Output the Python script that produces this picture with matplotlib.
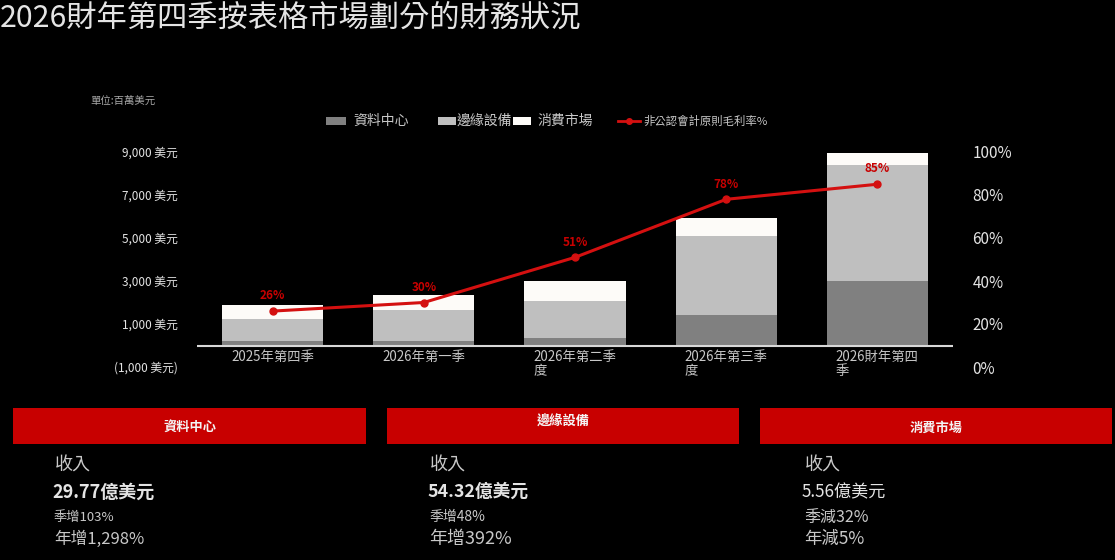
import matplotlib
matplotlib.use('Agg')
import matplotlib.pyplot as plt
from matplotlib.patches import Rectangle
from matplotlib.lines import Line2D

plt.rcParams['font.family'] = ['Noto Sans CJK TC', 'DejaVu Sans']

# data (million USD)
quarters = ['2025年第四季', '2026年第一季', '2026年第二季\n度', '2026年第三季\n度', '2026財年第四\n季']
data_center = [200, 230, 370, 1400, 2977]
edge = [1050, 1400, 1680, 3670, 5432]
consumer = [620, 700, 930, 880, 556]
margin = [0.26, 0.30, 0.51, 0.78, 0.85]
margin_labels = ['26%', '30%', '51%', '78%', '85%']

left_ticks = [-1000, 1000, 3000, 5000, 7000, 9000]
left_labels = ['(1,000 美元)', '1,000 美元', '3,000 美元', '5,000 美元', '7,000 美元', '9,000 美元']
right_ticks = [0, 0.2, 0.4, 0.6, 0.8, 1.0]
right_labels = ['0%', '20%', '40%', '60%', '80%', '100%']

segments = ['資料中心', '邊緣設備', '消費市場']
seg_revenue = ['29.77億美元', '54.32億美元', '5.56億美元']
seg_qoq = ['季增103%', '季增48%', '季減32%']
seg_yoy = ['年增1,298%', '年增392%', '年減5%']

C = {
    'bg': '#000000',
    'dc': '#808080',
    'edge': '#bfbfbf',
    'cons': '#fdfbf8',
    'red': '#c80000',
    'line': '#d41010',
    'txt': '#e4e4e4',
    'sub': '#c8c8c8',
}

W, H = 1115, 560
fig = plt.figure(figsize=(W / 100, H / 100), dpi=100, facecolor=C['bg'])


def fx(px):
    return px / W


def fy(py):
    return 1 - py / H


# title
fig.text(fx(0), fy(18), '2026財年第四季按表格市場劃分的財務狀況', fontsize=21.8,
         fontweight='medium', color=C['txt'], ha='left', va='center')
fig.text(fx(90), fy(101), '單位:百萬美元', fontsize=7.5, color='#a8a8a8', ha='left', va='center')

# main axes
ax = fig.add_axes([fx(197), fy(367), fx(953) - fx(197), fy(152) - fy(367)])
ax.set_facecolor(C['bg'])
x = list(range(len(quarters)))
w = 0.67
b1 = [d + e for d, e in zip(data_center, edge)]
ax.bar(x, data_center, width=w, color=C['dc'], zorder=2)
ax.bar(x, edge, width=w, bottom=data_center, color=C['edge'], zorder=2)
ax.bar(x, consumer, width=w, bottom=b1, color=C['cons'], zorder=2)
ax.axhline(0, color='#d8d8d8', lw=1.5, zorder=3)
ax.set_xlim(-0.5, len(quarters) - 0.5)
ax.set_ylim(-1000, 9000)
ax.set_xticks([])
ax.set_yticks(left_ticks)
ax.set_yticklabels(left_labels)
ax.tick_params(axis='y', length=0, pad=14, labelsize=8.5, labelcolor=C['txt'])
for s in ax.spines.values():
    s.set_visible(False)
for i, q in enumerate(quarters):
    ax.text(i, -230, q, ha='center', va='top', multialignment='left',
            fontsize=9.6, color=C['sub'], linespacing=1.0)

ax2 = ax.twinx()
ax2.set_ylim(0, 1.0)
ax2.plot(x, margin, color=C['line'], lw=2.2, marker='o', markersize=5, zorder=4)
for i, (m, lab) in enumerate(zip(margin, margin_labels)):
    ax2.annotate(lab, (i, m), xytext=(0, 11), textcoords='offset points',
                 ha='center', va='center', fontsize=8.5, fontweight='bold', color=C['red'])
ax2.set_yticks(right_ticks)
ax2.set_yticklabels(right_labels)
ax2.tick_params(axis='y', length=0, pad=14, labelsize=11, labelcolor=C['txt'])
for s in ax2.spines.values():
    s.set_visible(False)

# legend drawn by hand to match spacing
leg_y = 121
for x0, x1, col, tx, lab in [(326, 346, C['dc'], 353, '資料中心'),
                             (438, 456, C['edge'], 457, '邊緣設備'),
                             (513, 531, C['cons'], 538, '消費市場')]:
    fig.patches.append(Rectangle((fx(x0), fy(leg_y + 4)), fx(x1) - fx(x0), fy(leg_y - 4) - fy(leg_y + 4),
                                 transform=fig.transFigure, facecolor=col, edgecolor='none'))
    fig.text(fx(tx), fy(leg_y), lab, fontsize=10, color=C['sub'], ha='left', va='center')
fig.lines.append(Line2D([fx(618), fx(640)], [fy(leg_y), fy(leg_y)], transform=fig.transFigure,
                        color=C['line'], lw=2))
fig.lines.append(Line2D([fx(629)], [fy(leg_y)], transform=fig.transFigure,
                        color=C['line'], marker='o', markersize=4))
fig.text(fx(643), fy(leg_y), '非公認會計原則毛利率%', fontsize=8.2, color=C['sub'], ha='left', va='center')

# segment panels
panels = [(13, 366), (387, 739), (760, 1112)]
head_y = [427, 422, 428]
text_x = [54, 429, 804]
rev_bold = ['bold', 'bold', 'normal']
rev_size = [13, 12.8, 12.3]
qoq_size = [9.5, 10, 11.5]
yoy_size = [12, 13, 12.5]
for k, (x0, x1) in enumerate(panels):
    fig.patches.append(Rectangle((fx(x0), fy(444)), fx(x1) - fx(x0), fy(408) - fy(444),
                                 transform=fig.transFigure, facecolor=C['red'], edgecolor='none'))
    fig.text(fx((x0 + x1) / 2), fy(head_y[k]), segments[k], fontsize=9.5, fontweight='bold',
             color='#f4f4f4', ha='center', va='center')
    tx = text_x[k]
    fig.text(fx(tx + 1), fy(466), '收入', fontsize=13, color=C['sub'], ha='left', va='center')
    fig.text(fx(tx - 2), fy(492), seg_revenue[k], fontsize=rev_size[k],
             fontweight=rev_bold[k], color=C['txt'], ha='left', va='center')
    fig.text(fx(tx), fy(517), seg_qoq[k], fontsize=qoq_size[k], color=C['sub'],
             ha='left', va='center')
    fig.text(fx(tx), fy(539), seg_yoy[k], fontsize=yoy_size[k], color=C['sub'],
             ha='left', va='center')

fig.savefig('out.png', dpi=100, facecolor=C['bg'])
